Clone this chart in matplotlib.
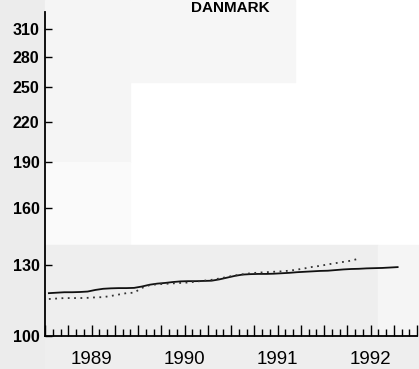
import matplotlib
matplotlib.use("Agg")
import matplotlib.pyplot as plt
from matplotlib.patches import Rectangle
from matplotlib.ticker import NullLocator, FixedLocator, FixedFormatter
import numpy as np

plt.rcParams['font.family'] = ['Liberation Sans', 'DejaVu Sans']

# Monthly index, Jan 1989 onwards
solid_vals = [117.1, 117.3, 117.5, 117.5, 117.6, 117.8, 118.5, 119.0, 119.2, 119.3,
              119.3, 119.4, 120.0, 120.8, 121.3, 121.6, 122.0, 122.3, 122.4, 122.4,
              122.5, 122.6, 123.2, 124.0, 124.8, 125.4, 125.6, 125.7, 125.7, 125.8,
              126.0, 126.2, 126.5, 126.7, 126.9, 127.1, 127.2, 127.5, 127.8, 128.0,
              128.1, 128.3, 128.4, 128.5, 128.7, 128.9]
dotted_vals = [114.6, 114.8, 115.0, 115.0, 115.0, 115.1, 115.3, 115.4, 115.9, 116.5,
               117.1, 117.3, 119.4, 120.6, 121.0, 121.2, 121.4, 121.6, 121.8, 122.2,
               122.6, 123.0, 123.6, 124.3, 125.0, 125.5, 126.0, 126.3, 126.5, 126.7,
               126.9, 127.2, 127.7, 128.3, 129.0, 129.5, 130.2, 130.8, 131.4, 132.0,
               133.0]
years = [1989, 1990, 1991, 1992]
y_ticks = [100, 130, 160, 190, 220, 250, 280, 310]
title = "DANMARK"

start = 1989
t_solid = start + (np.arange(len(solid_vals)) + 0.5) / 12
t_dotted = start + (np.arange(len(dotted_vals)) + 0.5) / 12

W, H = 419, 369
fig = plt.figure(figsize=(W / 100, H / 100), dpi=100, facecolor="white")

# scanned background shading
def band(x0, y0, x1, y1, c):
    fig.patches.append(Rectangle((x0 / W, 1 - y1 / H), (x1 - x0) / W, (y1 - y0) / H,
                                 transform=fig.transFigure, color=c, zorder=-10))

band(0, 0, 45, H, "#ececec")
band(45, 0, 130, 162, "#f5f5f5")
band(45, 162, 130, 245, "#fafafa")
band(130, 0, 295, 82, "#f6f6f6")
band(45, 245, 378, 336, "#eeeeee")
band(378, 245, W, 336, "#f5f5f5")
band(45, 336, W, H, "#eeeeee")

ax = fig.add_axes([45 / W, (H - 336) / H, (417 - 45) / W, (336 - 12) / H])
ax.set_facecolor("none")

ax.plot(t_solid, solid_vals, color="#111111", lw=1.3)
ax.plot(t_dotted, dotted_vals, color="#333333", lw=1.3, linestyle=(0, (1, 2.5)))

ax.set_yscale("log")
ax.set_ylim(100, 330)
ax.set_xlim(1989, 1993)

for s in ["top", "right"]:
    ax.spines[s].set_visible(False)
for s in ["left", "bottom"]:
    ax.spines[s].set_linewidth(1.3)

ax.yaxis.set_major_locator(FixedLocator(y_ticks))
ax.yaxis.set_major_formatter(FixedFormatter([str(v) for v in y_ticks]))
ax.yaxis.set_minor_locator(NullLocator())
ax.tick_params(axis="y", direction="in", length=5, width=1, pad=4, labelsize=11.5)
for lab in ax.get_yticklabels():
    lab.set_fontweight("bold")

months = start + np.arange(0, 12 * 4 + 1) / 12
quarters = start + np.arange(0, 4 * 4 + 1) / 4
ax.set_xticks(quarters)
ax.set_xticklabels([])
ax.set_xticks(months, minor=True)
ax.tick_params(axis="x", which="major", direction="in", length=8, width=1)
ax.tick_params(axis="x", which="minor", direction="in", length=5, width=1)

sec = ax.secondary_xaxis("bottom")
sec.set_xticks([y + 0.5 for y in years])
sec.set_xticklabels([str(y) for y in years])
sec.tick_params(length=0, pad=11, labelsize=13.5)
sec.spines["bottom"].set_visible(False)

fig.text(230 / W, 1 - 1 / H, title, ha="center", va="top",
         fontsize=11, fontweight="bold")

fig.savefig("out.png", dpi=100)
